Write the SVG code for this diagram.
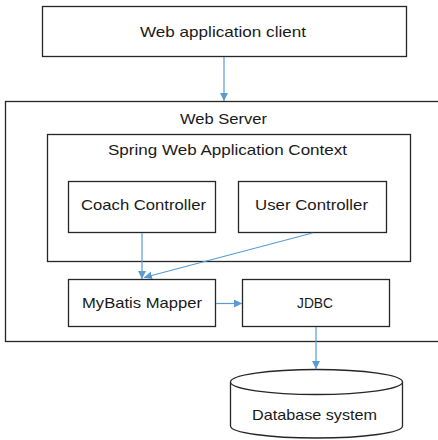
<svg xmlns="http://www.w3.org/2000/svg" width="438" height="440" viewBox="0 0 438 440">
<defs>
<style>
.box{fill:#fff;stroke:#262626;stroke-width:1.3}
.t{font-family:"Liberation Sans",Arial,sans-serif;font-size:14.5px;fill:#1a1a1a;text-anchor:middle}
.c{fill:none;stroke:#5b9bd5;stroke-width:1.2}
</style>
<marker id="ah" markerWidth="8" markerHeight="8" viewBox="0 0 10 10" refX="10" refY="5" orient="auto" markerUnits="userSpaceOnUse">
<path d="M0,0 L10,5 L0,10 z" fill="#5b9bd5"/>
</marker>
</defs>
<rect width="438" height="440" fill="#fff"/>
<g id="web-server">
<rect class="box" x="5.5" y="101.5" width="440" height="240"/>
<text class="t" x="223.5" y="124" textLength="87" lengthAdjust="spacingAndGlyphs">Web Server</text>
</g>
<g id="spring-context">
<rect class="box" x="47.5" y="134.5" width="363" height="127"/>
<text class="t" x="227.5" y="155" textLength="239" lengthAdjust="spacingAndGlyphs">Spring  Web Application Context</text>
</g>
<g id="client">
<rect class="box" x="42.5" y="6.5" width="364" height="50"/>
<text class="t" x="223" y="37" textLength="166" lengthAdjust="spacingAndGlyphs">Web application client</text>
</g>
<g id="coach-controller">
<rect class="box" x="68.5" y="181.5" width="147" height="51"/>
<text class="t" x="143.5" y="210" textLength="125" lengthAdjust="spacingAndGlyphs">Coach Controller</text>
</g>
<g id="user-controller">
<rect class="box" x="238.5" y="181.5" width="148" height="51"/>
<text class="t" x="311.5" y="210" textLength="113" lengthAdjust="spacingAndGlyphs">User Controller</text>
</g>
<g id="mybatis">
<rect class="box" x="68.5" y="279.5" width="147" height="47"/>
<text class="t" x="142" y="308" textLength="120" lengthAdjust="spacingAndGlyphs">MyBatis Mapper</text>
</g>
<g id="jdbc">
<rect class="box" x="242.5" y="279.5" width="147" height="47"/>
<text class="t" x="315" y="308" textLength="36" lengthAdjust="spacingAndGlyphs">JDBC</text>
</g>
<g id="database">
<path class="box" d="M230.5,382 L230.5,426 A86,12 0 0 0 402.5,426 L402.5,382"/>
<ellipse class="box" cx="316.5" cy="382" rx="86" ry="12.5"/>
<text class="t" x="314.5" y="420" textLength="125" lengthAdjust="spacingAndGlyphs">Database system</text>
</g>
<g id="connectors">
<line class="c" x1="224" y1="57" x2="224" y2="101" marker-end="url(#ah)"/>
<line class="c" x1="142" y1="233" x2="142" y2="279" marker-end="url(#ah)"/>
<line class="c" x1="312.5" y1="233" x2="144" y2="277.5" marker-end="url(#ah)"/>
<line class="c" x1="216" y1="303.5" x2="242" y2="303.5" marker-end="url(#ah)"/>
<line class="c" x1="316" y1="327" x2="316" y2="369" marker-end="url(#ah)"/>
</g>
</svg>
